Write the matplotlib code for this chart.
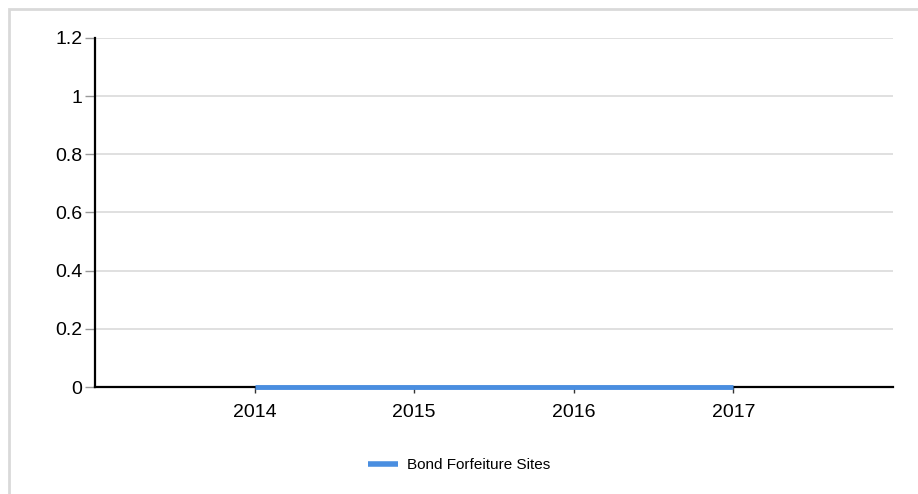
import matplotlib.pyplot as plt
from matplotlib.patches import Rectangle

# Bond forfeiture site counts per year
years = [2014, 2015, 2016, 2017]
sites = [0, 0, 0, 0]
series_name = "Bond Forfeiture Sites"

y_ticks = [0, 0.2, 0.4, 0.6, 0.8, 1.0, 1.2]
y_labels = ["0", "0.2", "0.4", "0.6", "0.8", "1", "1.2"]

plt.rcParams['font.family'] = ['Liberation Sans', 'DejaVu Sans']

fig = plt.figure(figsize=(9.18, 4.94), dpi=100)
fig.patch.set_facecolor('white')

# light frame around the chart area
fig.add_artist(Rectangle((9 / 918, -0.01), 1.0, 1 - 9 / 494 + 0.01,
                         transform=fig.transFigure, fill=False,
                         edgecolor='#d9d9d9', linewidth=2))

ax = fig.add_axes([95 / 918, 1 - 387 / 494, (893 - 95) / 918, (387 - 38) / 494])

ax.plot(years, sites, color='#4a8ee0', linewidth=3.5, solid_capstyle='butt',
        label=series_name, zorder=5, clip_on=False)

ax.set_xlim(2013, 2018)
ax.set_ylim(0, 1.2)
ax.set_xticks(years)
ax.set_xticklabels([str(y) for y in years])
ax.set_yticks(y_ticks)
ax.set_yticklabels(y_labels)

ax.grid(axis='y', color='#dddddd', linewidth=1.3)
ax.set_axisbelow(True)

for side in ['top', 'right']:
    ax.spines[side].set_visible(False)
ax.spines['left'].set_linewidth(1.6)
ax.spines['bottom'].set_linewidth(1.6)
ax.spines['left'].set_color('black')
ax.spines['bottom'].set_color('black')

ax.tick_params(axis='y', length=7, width=1, color='#999999', labelsize=14, pad=2)
ax.tick_params(axis='x', length=4, width=1, color='#333333', labelsize=14, pad=8)

leg = ax.legend(loc='center', bbox_to_anchor=(459 / 918, 1 - 465 / 494),
                bbox_transform=fig.transFigure, frameon=False,
                fontsize=11, handlelength=2.0, handletextpad=0.6)
for handle in leg.get_lines():
    handle.set_linewidth(4)

plt.savefig('out.png', dpi=100)
